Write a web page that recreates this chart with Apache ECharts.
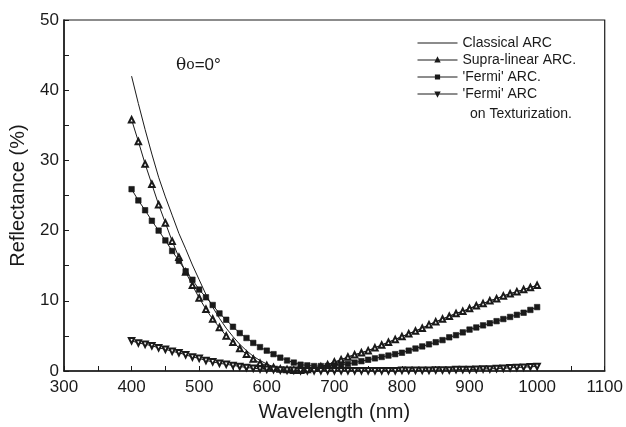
<!DOCTYPE html>
<html>
<head>
<meta charset="utf-8">
<script src="https://cdn.jsdelivr.net/npm/echarts@6/dist/echarts.min.js"></script>
<style>
  html, body { margin: 0; padding: 0; background: #fff; }
  #chart { width: 626px; height: 427px; }
</style>
</head>
<body>
<div id="chart"></div>
<script>
// wavelengths (nm), one point every 10 nm
const wavelengths = [400, 410, 420, 430, 440, 450, 460, 470, 480, 490,
  500, 510, 520, 530, 540, 550, 560, 570, 580, 590,
  600, 610, 620, 630, 640, 650, 660, 670, 680, 690,
  700, 710, 720, 730, 740, 750, 760, 770, 780, 790,
  800, 810, 820, 830, 840, 850, 860, 870, 880, 890,
  900, 910, 920, 930, 940, 950, 960, 970, 980, 990, 1000];

const classical = [42.0, 38.1, 34.4, 30.9, 27.6, 24.8, 22.2, 19.6, 17.4, 15.1,
  13.0, 10.9, 9.1, 7.5, 6.1, 4.9, 3.8, 2.9, 2.1, 1.5,
  1.0, 0.6, 0.3, 0.2, 0.1, 0.1, 0.2, 0.4, 0.6, 0.9,
  1.2, 1.6, 2.0, 2.3, 2.6, 2.9, 3.3, 3.7, 4.1, 4.5,
  4.9, 5.3, 5.7, 6.1, 6.6, 7.0, 7.4, 7.8, 8.2, 8.5,
  8.9, 9.3, 9.6, 10.0, 10.3, 10.7, 11.0, 11.3, 11.6, 11.9, 12.2];

const supraLinear = [35.8, 32.7, 29.5, 26.6, 23.7, 21.1, 18.5, 16.2, 14.1, 12.2,
  10.4, 8.8, 7.4, 6.2, 5.0, 4.1, 3.2, 2.4, 1.7, 1.1,
  0.8, 0.5, 0.3, 0.2, 0.1, 0.1, 0.2, 0.4, 0.6, 0.9,
  1.3, 1.6, 2.0, 2.3, 2.6, 2.9, 3.3, 3.7, 4.1, 4.5,
  4.9, 5.3, 5.7, 6.1, 6.6, 7.0, 7.4, 7.8, 8.2, 8.5,
  8.9, 9.3, 9.6, 10.0, 10.3, 10.7, 11.0, 11.3, 11.6, 11.9, 12.2];

const fermi = [25.9, 24.3, 22.9, 21.4, 20.0, 18.6, 17.1, 15.7, 14.2, 13.0,
  11.6, 10.5, 9.4, 8.2, 7.3, 6.3, 5.4, 4.7, 4.0, 3.4,
  2.9, 2.4, 1.9, 1.5, 1.2, 0.9, 0.8, 0.7, 0.7, 0.7,
  0.8, 0.9, 1.0, 1.2, 1.4, 1.6, 1.8, 2.0, 2.2, 2.4,
  2.6, 2.9, 3.2, 3.5, 3.8, 4.1, 4.4, 4.8, 5.1, 5.5,
  5.9, 6.2, 6.5, 6.8, 7.1, 7.4, 7.7, 8.0, 8.3, 8.7, 9.1];

const fermiTexturized = [4.3, 4.0, 3.8, 3.6, 3.3, 3.1, 2.8, 2.6, 2.3, 2.0,
  1.8, 1.5, 1.3, 1.1, 0.95, 0.8, 0.65, 0.5, 0.4, 0.3,
  0.25, 0.2, 0.15, 0.1, 0.1, 0.05, 0.05, 0.05, 0.05, 0.05,
  0.05, 0.05, 0.05, 0.05, 0.05, 0.05, 0.05, 0.05, 0.05, 0.05,
  0.1, 0.1, 0.1, 0.1, 0.1, 0.15, 0.15, 0.15, 0.2, 0.2,
  0.2, 0.25, 0.3, 0.3, 0.35, 0.4, 0.45, 0.5, 0.55, 0.6, 0.65];

const seriesNames = ['Classical ARC', 'Supra-linear ARC.', "'Fermi' ARC.", "'Fermi' ARC"];

const ink = '#1a1a1a';
const font = 'Liberation Sans, Arial, sans-serif';

const pairs = vals => wavelengths.map((w, i) => [w, vals[i]]);

const chart = echarts.init(document.getElementById('chart'));

const baseSeries = {
  type: 'line',
  lineStyle: { color: ink, width: 1 },
  itemStyle: { color: ink, borderColor: ink, borderWidth: 0.6 },
  symbolSize: 5,
  animation: false,
  z: 3,
};

chart.setOption({
  backgroundColor: '#fff',
  animation: false,
  grid: { left: 62, right: 20, top: 20, bottom: 51, show: true, borderColor: ink, borderWidth: 1.2, backgroundColor: 'transparent' },
  xAxis: {
    type: 'value', min: 300, max: 1100, interval: 100,
    name: 'Wavelength (nm)', nameLocation: 'middle', nameGap: 31,
    nameTextStyle: { color: ink, fontSize: 20, fontFamily: font },
    axisLine: { lineStyle: { color: ink, width: 1.5 } },
    axisTick: { inside: true, length: 5, lineStyle: { color: ink } },
    minorTick: { show: true, splitNumber: 2, length: 5, lineStyle: { color: ink } },
    axisLabel: { color: ink, fontSize: 17, fontFamily: font, margin: 8, formatter: v => String(v) },
    splitLine: { show: false },
  },
  yAxis: {
    type: 'value', min: 0, max: 50, interval: 10,
    name: 'Reflectance (%)', nameLocation: 'middle', nameGap: 36,
    nameTextStyle: { color: ink, fontSize: 20, fontFamily: font },
    axisLine: { lineStyle: { color: ink, width: 1.5 } },
    axisTick: { inside: true, length: 5, lineStyle: { color: ink } },
    minorTick: { show: true, splitNumber: 2, length: 5, lineStyle: { color: ink } },
    axisLabel: { color: ink, fontSize: 17, fontFamily: font, margin: 5, formatter: v => String(v) },
    splitLine: { show: false },
  },
  legend: {
    orient: 'vertical', left: 417, top: 36, padding: 0,
    itemWidth: 40, itemHeight: 4, itemGap: 3,
    lineStyle: { width: 1 },
    textStyle: { color: ink, fontSize: 14, fontFamily: font, lineHeight: 14 },
    data: [
      { name: seriesNames[0], icon: 'path://M0,0H40V1H0Z', itemStyle: { borderWidth: 0 } },
      seriesNames[1], seriesNames[2], seriesNames[3],
    ],
  },
  graphic: [
    {
      type: 'text', left: 470, top: 107,
      style: { text: 'on Texturization.', fill: ink, font: '14px ' + font },
    },
    {
      type: 'text', left: 176, top: 57,
      style: {
        text: '{a|θ}{b|o}{c|=0°}',
        rich: {
          a: { fontSize: 17, fontFamily: 'DejaVu Serif, serif', fill: ink },
          b: { fontSize: 14, fontFamily: 'DejaVu Serif, serif', fill: ink },
          c: { fontSize: 17, fontFamily: font, fill: ink },
        },
      },
    },
  ],
  series: [
    Object.assign({}, baseSeries, { name: seriesNames[0], data: pairs(classical), showSymbol: false, symbol: 'none' }),
    Object.assign({}, baseSeries, { name: seriesNames[1], data: pairs(supraLinear), symbol: 'emptyTriangle', symbolSize: 5.5 }),
    Object.assign({}, baseSeries, { name: seriesNames[2], data: pairs(fermi), symbol: 'rect', symbolSize: 5.5 }),
    Object.assign({}, baseSeries, { name: seriesNames[3], data: pairs(fermiTexturized), symbol: 'emptyTriangle', symbolSize: 5.5, symbolRotate: 180 }),
  ],
});
</script>
</body>
</html>
